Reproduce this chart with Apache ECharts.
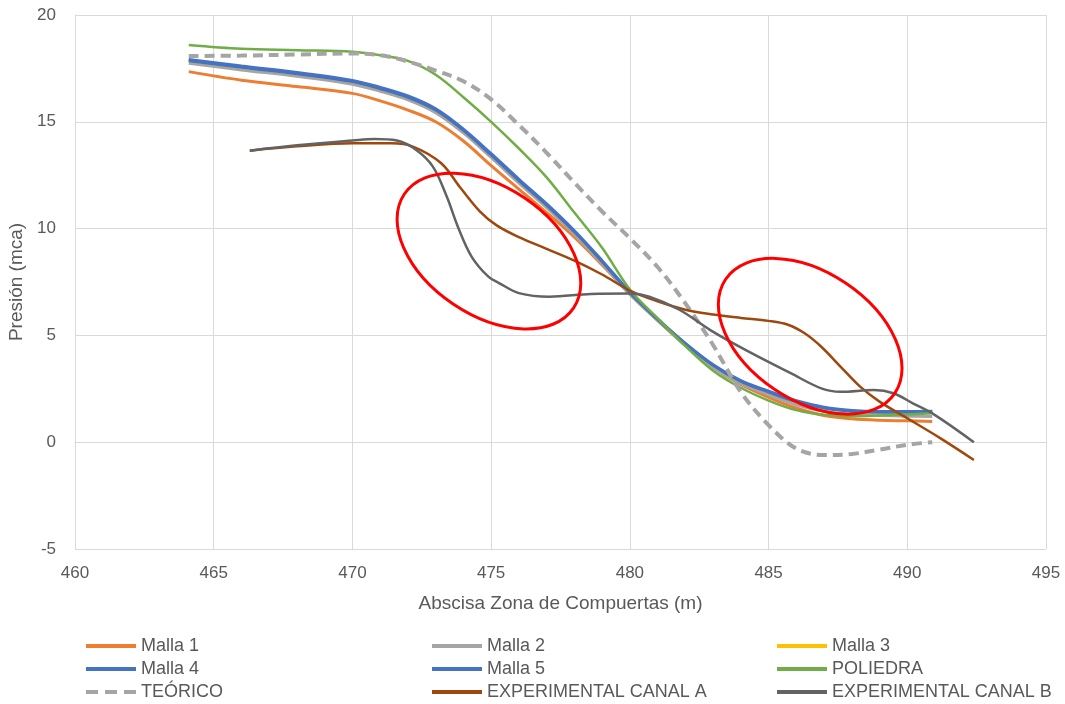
<!DOCTYPE html>
<html><head><meta charset="utf-8">
<script src="https://cdn.jsdelivr.net/npm/echarts@6/dist/echarts.min.js"></script>
<style>html,body{margin:0;padding:0;background:#fff}#c{width:1065px;height:704px}</style>
</head><body><div id="c"></div>
<script>
// ---- data (x = abscisa m, y = presión mca) ----
const malla1 = [[464.1,17.35],[466,16.95],[468,16.65],[470,16.33],[471,15.98],[472,15.55],[473,15.0],[474,14.1],[475,12.95],[476,11.85],[477,10.75],[478,9.6],[479,8.3],[480,6.95],[481,5.7],[482,4.55],[483,3.5],[484,2.7],[485,2.1],[486,1.6],[487,1.25],[488,1.1],[489,1.03],[490,1.0],[490.9,0.97]];
const malla2 = [[464.1,17.74],[466,17.43],[468,17.13],[470,16.76],[471,16.43],[472,16.03],[473,15.43],[474,14.48],[475,13.33],[476,12.13],[477,10.98],[478,9.73],[479,8.35],[480,6.92],[481,5.7],[482,4.52],[483,3.5],[484,2.75],[485,2.22],[486,1.75],[487,1.45],[488,1.3],[489,1.25],[490,1.22],[490.9,1.2]];
const malla3 = [[464.1,17.86],[466,17.55],[468,17.25],[470,16.88],[471,16.55],[472,16.15],[473,15.55],[474,14.6],[475,13.45],[476,12.25],[477,11.1],[478,9.85],[479,8.45],[480,7.0],[481,5.75],[482,4.6],[483,3.6],[484,2.85],[485,2.35],[486,1.9],[487,1.6],[488,1.45],[489,1.4],[490,1.4],[490.9,1.42]];
const malla4 = [[464.1,17.86],[466,17.55],[468,17.25],[470,16.88],[471,16.55],[472,16.15],[473,15.55],[474,14.6],[475,13.45],[476,12.25],[477,11.1],[478,9.85],[479,8.45],[480,7.0],[481,5.75],[482,4.6],[483,3.6],[484,2.85],[485,2.35],[486,1.9],[487,1.6],[488,1.45],[489,1.4],[490,1.4],[490.9,1.42]];
const malla5 = [[464.1,17.92],[466,17.61],[468,17.31],[470,16.94],[471,16.61],[472,16.21],[473,15.61],[474,14.66],[475,13.51],[476,12.31],[477,11.16],[478,9.9],[479,8.5],[480,7.03],[481,5.78],[482,4.63],[483,3.63],[484,2.88],[485,2.39],[486,1.94],[487,1.64],[488,1.49],[489,1.44],[490,1.44],[490.9,1.45]];
const poliedra = [[464.1,18.6],[466,18.42],[468,18.35],[470,18.28],[471,18.12],[472,17.85],[473,17.2],[474,16.15],[475,15.0],[476,13.75],[477,12.4],[478,10.75],[479,9.1],[480,7.15],[481,5.8],[482,4.5],[483,3.35],[484,2.55],[485,1.95],[486,1.5],[487,1.28],[488,1.22],[489,1.25],[490,1.3],[490.9,1.35]];
const teorico = [[464.1,18.08],[466,18.1],[468,18.15],[470,18.2],[471,18.12],[472,17.82],[473,17.4],[474,16.9],[475,16.05],[476,14.85],[477,13.55],[478,12.15],[479,10.8],[480,9.55],[481,8.2],[482,6.5],[483,4.55],[484,2.35],[485,0.8],[486,-0.3],[487,-0.6],[488,-0.55],[489,-0.35],[490,-0.12],[490.9,0.0]];
const expA = [[466.3,13.65],[468,13.85],[470,13.99],[471.4,13.99],[472.2,13.83],[473.2,13.06],[473.9,11.9],[474.6,10.8],[475.2,10.15],[476,9.6],[477,9.05],[478,8.5],[479,7.85],[480,7.1],[481,6.6],[482,6.2],[483,5.98],[484,5.82],[485,5.68],[485.7,5.5],[486.3,5.1],[486.9,4.47],[487.6,3.53],[488.3,2.6],[489,1.9],[490,1.12],[491.2,0.18],[492.4,-0.83]];
const expB = [[466.3,13.65],[468,13.9],[470,14.12],[470.8,14.19],[471.6,14.12],[472.3,13.68],[472.9,12.9],[473.4,11.5],[473.8,10.09],[474.3,8.68],[474.9,7.75],[475.3,7.44],[476,6.98],[477.1,6.81],[478.6,6.94],[480,6.96],[480.7,6.81],[481.8,6.19],[482.9,5.25],[484.2,4.3],[485.8,3.23],[486.9,2.52],[487.6,2.36],[488.8,2.44],[489.5,2.29],[490.2,1.82],[491,1.27],[492.4,0.0]];
const seriesNames = ['Malla 1','Malla 2','Malla 3','Malla 4','Malla 5','POLIEDRA','TEÓRICO','EXPERIMENTAL CANAL A','EXPERIMENTAL CANAL B'];
const seriesData = [malla1, malla2, malla3, malla4, malla5, poliedra, teorico, expA, expB];
const legendCols = [['Malla 1','Malla 4','TEÓRICO'],['Malla 2','Malla 5','EXPERIMENTAL CANAL A'],['Malla 3','POLIEDRA','EXPERIMENTAL CANAL B']];
const annotationCenters = [[474.92, 8.95], [486.5, 4.96]];
const xTitle = 'Abscisa Zona de Compuertas (m)';
const yTitle = 'Presión (mca)';

// ---- styles ----
const colors = ['#ED7D31','#A5A5A5','#FFC000','#4472C4','#4472C4','#70AD47','#A5A5A5','#9E480E','#636363'];
const widths = [3,3,3,3,3,2.5,4,2.5,2.5];
const FONT = '"Liberation Sans", Arial, sans-serif';
const TXT = '#595959';
const DASH_ICON = 'path://M0,0h12v4h-12z M19,0h12v4h-12z M38,0h12v4h-12z';

const chart = echarts.init(document.getElementById('c'), null, {renderer:'canvas'});
const series = seriesNames.map((n,i)=>({
  name:n, type:'line', data:seriesData[i], smooth:0.35,
  symbol:'none', showSymbol:false, z:2+i,
  lineStyle:{color:colors[i], width:widths[i], type: n==='TEÓRICO' ? [10,6] : 'solid', cap:'butt'},
  itemStyle:{color:colors[i]},
  emphasis:{disabled:true}, animation:false
}));
const legends = legendCols.map((col,k)=>({
  show:true, orient:'vertical', left:[86,432,777][k], top:637, height:67, padding:0,
  itemWidth:50, itemHeight:4, itemGap:5, itemTextGap:5,
  data:col.map(n=>({name:n, icon: n==='TEÓRICO' ? DASH_ICON : 'rect'})),
  selectedMode:false,
  textStyle:{color:TXT, fontSize:18, fontFamily:FONT, lineHeight:18}
}));
chart.setOption({
  animation:false,
  backgroundColor:'#fff',
  grid:{left:75, right:19, top:15, bottom:155, containLabel:false, outerBoundsMode:'none'},
  legend:legends,
  xAxis:{type:'value', min:460, max:495, interval:5,
    name:xTitle, nameLocation:'middle', nameGap:45,
    nameTextStyle:{color:TXT, fontSize:19, fontFamily:FONT},
    axisLine:{show:true, lineStyle:{color:'#D9D9D9', width:1}},
    axisTick:{show:false},
    axisLabel:{color:TXT, fontSize:17, fontFamily:FONT, margin:16},
    splitLine:{show:true, lineStyle:{color:'#D9D9D9', width:1}}},
  yAxis:{type:'value', min:-5, max:20, interval:5,
    name:yTitle, nameLocation:'middle', nameGap:46, nameRotate:90,
    nameTextStyle:{color:TXT, fontSize:19, fontFamily:FONT},
    axisLine:{show:true, lineStyle:{color:'#D9D9D9', width:1}},
    axisTick:{show:false},
    axisLabel:{color:TXT, fontSize:17, fontFamily:FONT, margin:19},
    splitLine:{show:true, lineStyle:{color:'#D9D9D9', width:1}}},
  series:series
});
const g = annotationCenters.map(c=>{
  const p = chart.convertToPixel({xAxisIndex:0, yAxisIndex:0}, c);
  return {type:'ellipse', x:p[0], y:p[1], rotation:-34*Math.PI/180, z:100,
    shape:{cx:0, cy:0, rx:102, ry:64},
    style:{fill:null, stroke:'#FF0000', lineWidth:3}};
});
chart.setOption({graphic:{elements:g}});
</script></body></html>
